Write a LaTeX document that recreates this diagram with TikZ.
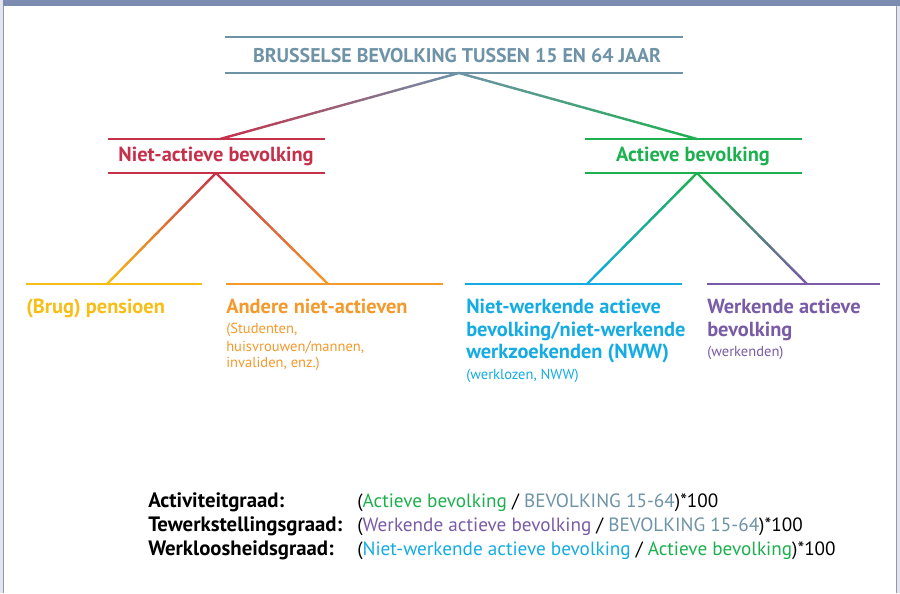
\documentclass[tikz,border=0pt]{standalone}
\usepackage{fontspec}
\setmainfont{PT Sans}
\usetikzlibrary{calc}
\definecolor{titlecol}{HTML}{6E93A7}
\definecolor{redcol}{HTML}{C6304A}
\definecolor{greencol}{HTML}{1DB04F}
\definecolor{yellowcol}{HTML}{F7BE16}
\definecolor{orangecol}{HTML}{F49A2C}
\definecolor{cyancol}{HTML}{14ACE3}
\definecolor{purplecol}{HTML}{7A5BA6}
\definecolor{barcol}{HTML}{7C8CB0}
\definecolor{sidegrey}{HTML}{E4E5EA}
\definecolor{framecol}{HTML}{8C99BC}
\newcommand\gradline[4]{%
  \foreach \i in {1,...,30}{%
    \pgfmathsetmacro\pp{100-(\i-0.5)*100/30}%
    \draw[conn,draw=#3!\pp!#4] ($(#1)!{(\i-1)/30}!(#2)$) -- ($(#1)!{\i/30}!(#2)$);
  }%
}
\tikzset{
  hline/.style={line width=1.5pt},
  conn/.style={line width=1.8pt,line cap=round},
  titletxt/.style={inner sep=0pt,font=\fontsize{14.9}{17}\selectfont\bfseries},
  bigbold/.style={inner sep=0pt,font=\fontsize{15.3}{18}\selectfont\bfseries},
  smalltxt/.style={inner sep=0pt,anchor=base west,font=\fontsize{10.9}{13}\selectfont},
  lowbold/.style={inner sep=0pt,anchor=base west,font=\fontsize{15.3}{18}\selectfont\bfseries},
  formlabel/.style={inner sep=0pt,anchor=base west,font=\fontsize{15.6}{18}\selectfont\bfseries},
  formtxt/.style={inner sep=0pt,anchor=base west,font=\fontsize{14.4}{17}\selectfont},
}
\begin{document}
\begin{tikzpicture}[x=0.75pt,y=-0.75pt]
\useasboundingbox (0,0) rectangle (900,593);
% frame
\fill[white] (0,0) rectangle (900,593);
\fill[sidegrey] (0,0) rectangle (3,593);
\fill[sidegrey] (897,0) rectangle (900,593);
\draw[framecol,line width=0.75pt] (3.5,0) -- (3.5,593);
\draw[framecol,line width=0.75pt] (896.5,0) -- (896.5,593);
\fill[barcol] (3,0) rectangle (900,6);

% title
\node[titletxt,text=titlecol] (top) at (457,56) {BRUSSELSE BEVOLKING TUSSEN 15 EN 64 JAAR};
\draw[hline,titlecol] (225,37) -- (683,37);
\draw[hline,titlecol] (225,73) -- (683,73);
\coordinate (topA) at (459,73);

% level 2
\node[bigbold,text=redcol] (na) at (216,156) {Niet-actieve bevolking};
\draw[hline,redcol] (108,139) -- (325,139);
\draw[hline,redcol] (108,173) -- (325,173);
\coordinate (naT) at (220,139);
\coordinate (naB) at (216,173);

\node[bigbold,text=greencol] (ac) at (693,156) {Actieve bevolking};
\draw[hline,greencol] (585,139) -- (802,139);
\draw[hline,greencol] (585,173) -- (802,173);
\coordinate (acT) at (697,139);
\coordinate (acB) at (697,173);

% level 3 lines
\draw[hline,yellowcol] (26,284) -- (202,284);
\draw[hline,orangecol] (226,284) -- (443,284);
\draw[hline,cyancol] (465,284) -- (682,284);
\draw[hline,purplecol] (707,284) -- (880,284);
\coordinate (bpT) at (107,284);
\coordinate (anT) at (328,284);
\coordinate (nwT) at (587,284);
\coordinate (wkT) at (807,284);

% connectors
\gradline{topA}{naT}{titlecol}{redcol}
\gradline{topA}{acT}{titlecol}{greencol}
\gradline{naB}{bpT}{redcol}{yellowcol}
\gradline{naB}{anT}{redcol}{orangecol}
\gradline{acB}{nwT}{greencol}{cyancol}
\gradline{acB}{wkT}{greencol}{purplecol}

% level 3 texts
\node[lowbold,text=yellowcol] (bp) at (26,313.5) {(Brug) pensioen};

\node[lowbold,text=orangecol] (an) at (226,313.5) {Andere niet-actieven};
\node[smalltxt,text=orangecol] (an1) at (226,333) {(Studenten,};
\node[smalltxt,text=orangecol] (an2) at (226,351) {huisvrouwen/mannen,};
\node[smalltxt,text=orangecol] (an3) at (226,367) {invaliden, enz.)};

\node[lowbold,text=cyancol] (nw1) at (466,313.5) {Niet-werkende actieve};
\node[lowbold,text=cyancol] (nw2) at (466,336) {bevolking/niet-werkende};
\node[lowbold,text=cyancol] (nw3) at (466,358.5) {werkzoekenden (NWW)};
\node[smalltxt,text=cyancol] (nw4) at (466,379) {(werklozen, NWW)};

\node[lowbold,text=purplecol] (wk1) at (707,313.5) {Werkende actieve};
\node[lowbold,text=purplecol] (wk2) at (707,336) {bevolking};
\node[smalltxt,text=purplecol] (wk3) at (707,356) {(werkenden)};

% formulas
\node[formlabel] (f1l) at (148,507) {Activiteitgraad:};
\node[formlabel] (f2l) at (148,531) {Tewerkstellingsgraad:};
\node[formlabel] (f3l) at (148,555) {Werkloosheidsgraad:};
\node[formtxt] (f1) at (357,507) {(\textcolor{greencol}{Actieve bevolking} / \textcolor{titlecol}{BEVOLKING 15-64})*100};
\node[formtxt] (f2) at (357,531) {(\textcolor{purplecol}{Werkende actieve bevolking} / \textcolor{titlecol}{BEVOLKING 15-64})*100};
\node[formtxt] (f3) at (357,555) {(\textcolor{cyancol}{Niet-werkende actieve bevolking} / \textcolor{greencol}{Actieve bevolking})*100};
\end{tikzpicture}
\end{document}
